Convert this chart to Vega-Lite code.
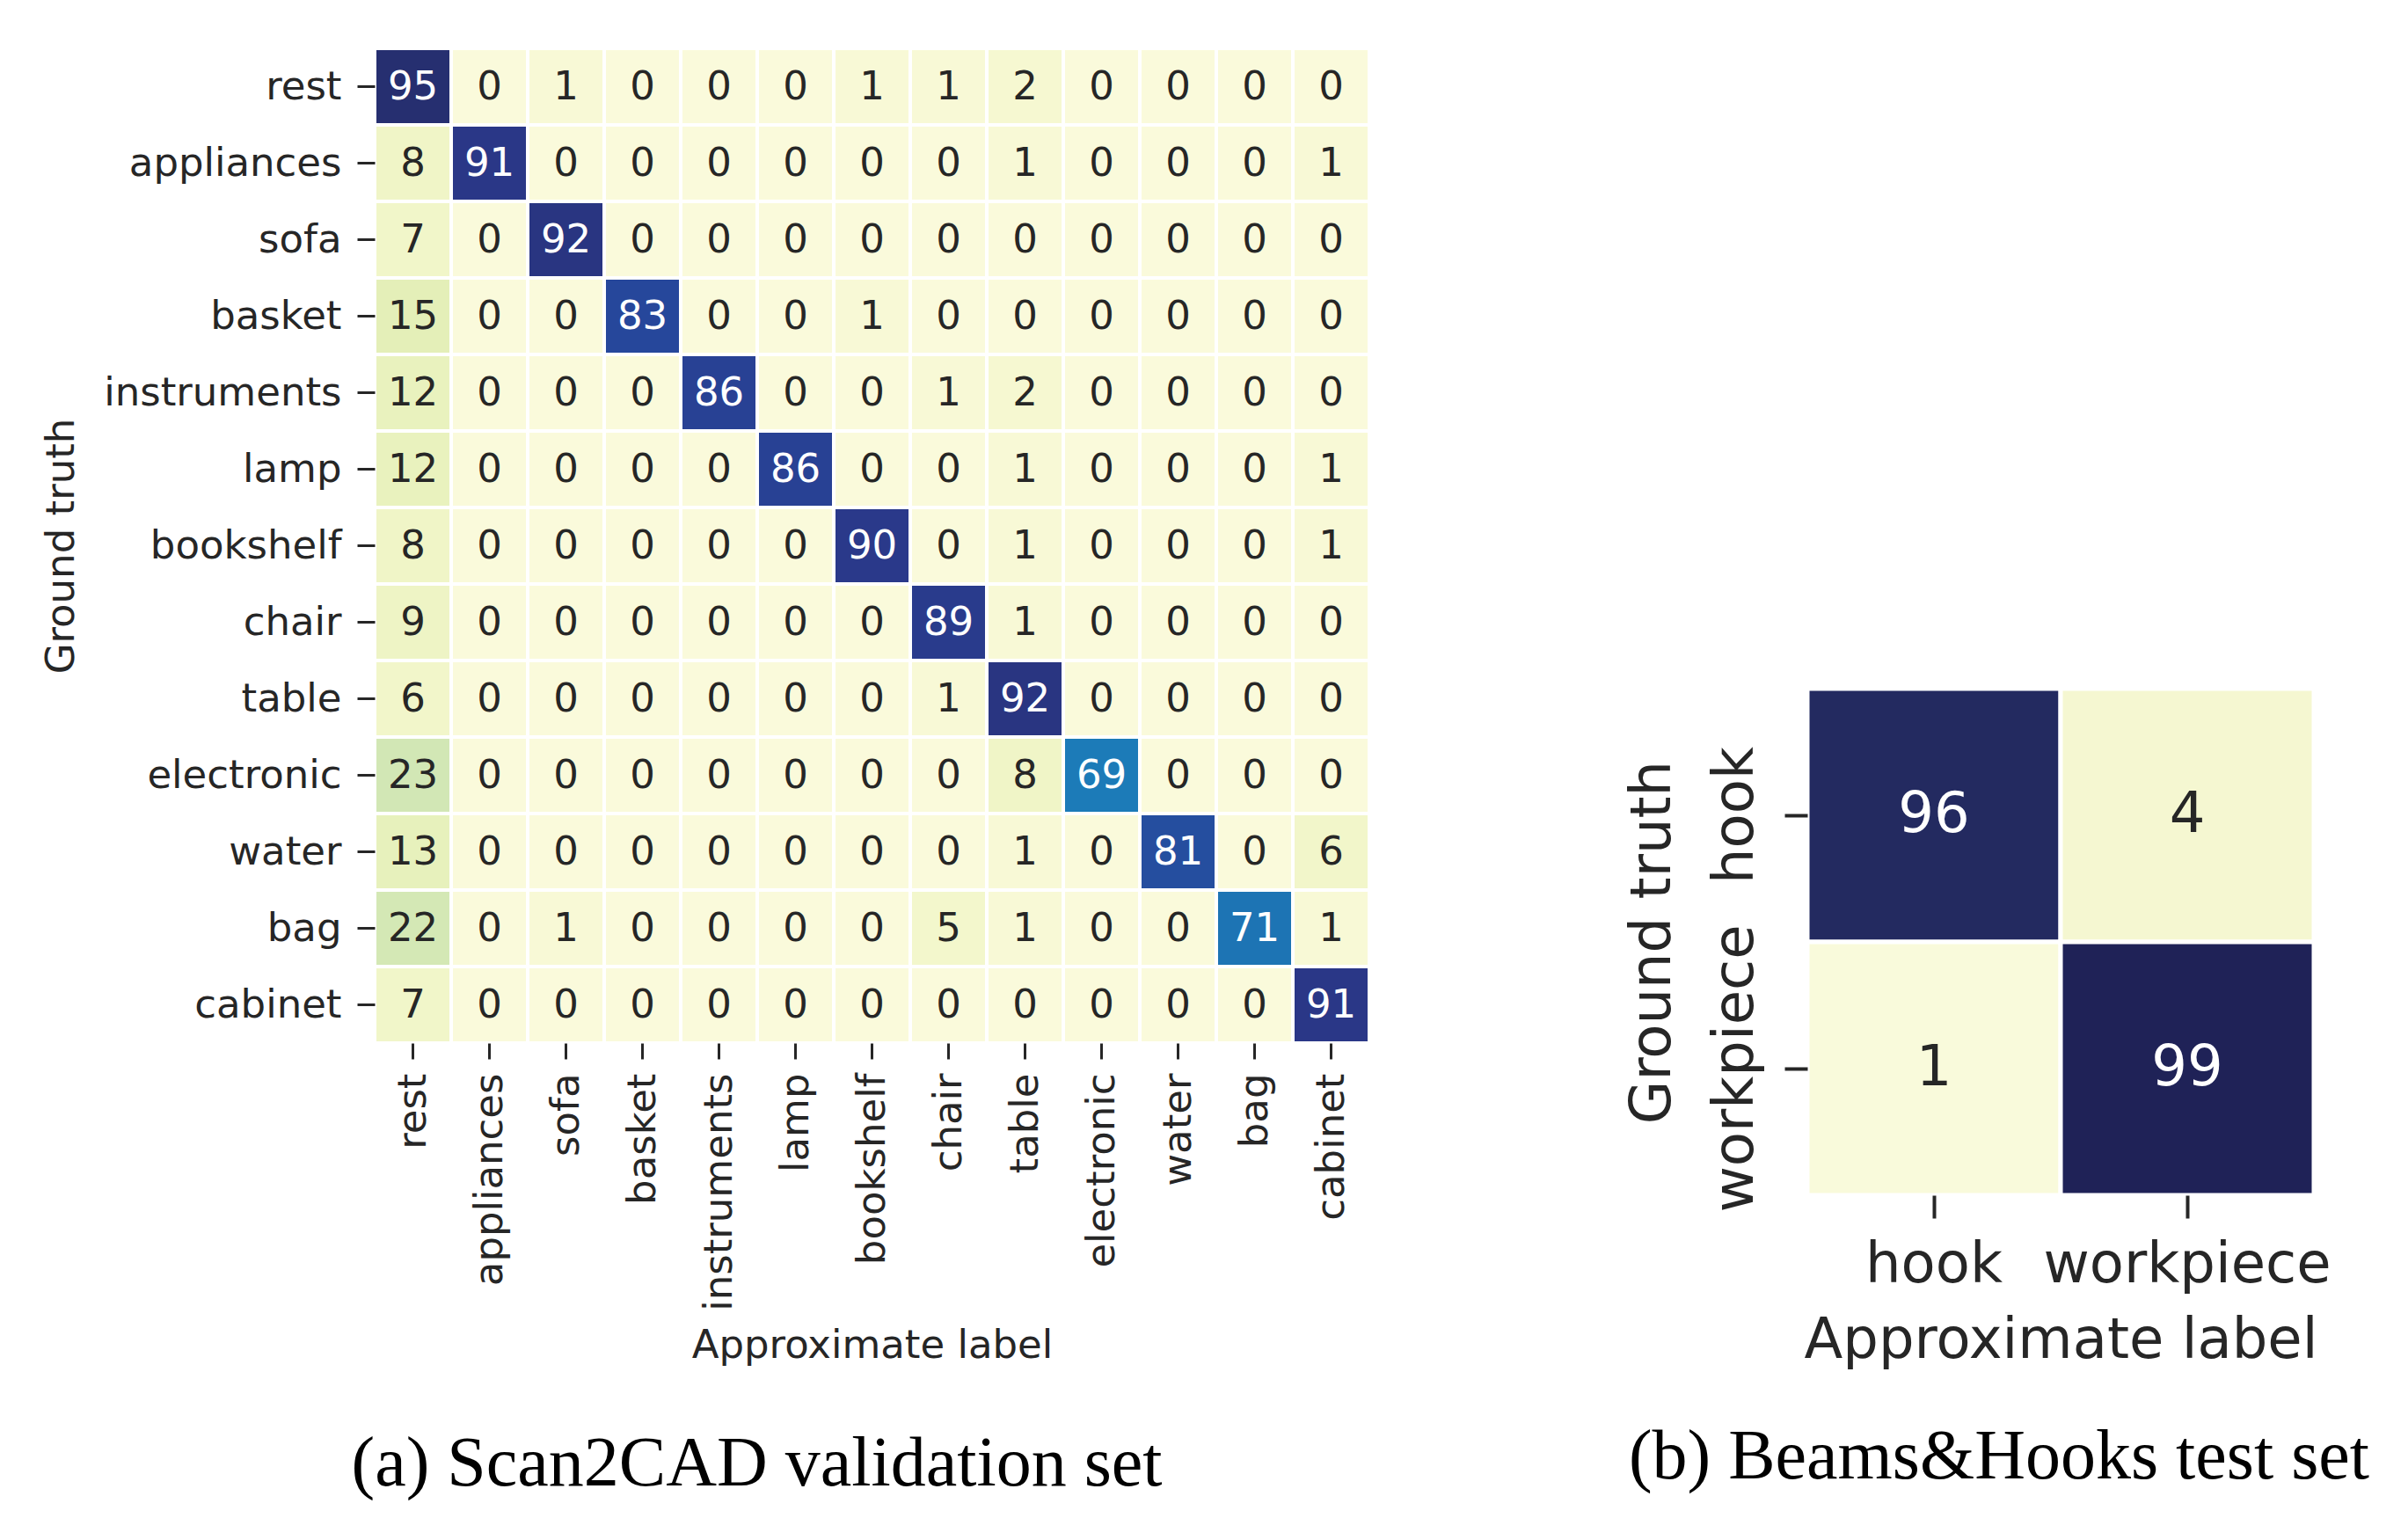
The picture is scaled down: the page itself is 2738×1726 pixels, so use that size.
{
  "$schema": "https://vega.github.io/schema/vega-lite/v6.json",
  "background": "white",
  "padding": {"left": 47, "top": 53, "right": 0, "bottom": 0},
  "config": {
    "view": {"stroke": null},
    "axis": {
      "domain": false, "grid": false, "labelLimit": 1000, "maxExtent": 1000,
      "labelFont": "DejaVu Sans", "labelColor": "#262626",
      "titleFont": "DejaVu Sans", "titleColor": "#262626", "titleFontWeight": "normal",
      "tickColor": "#262626"
    }
  },
  "datasets": {
    "scan2cad": [
      {"t":"rest","p":"rest","v":95},{"t":"rest","p":"appliances","v":0},{"t":"rest","p":"sofa","v":1},{"t":"rest","p":"basket","v":0},{"t":"rest","p":"instruments","v":0},{"t":"rest","p":"lamp","v":0},{"t":"rest","p":"bookshelf","v":1},{"t":"rest","p":"chair","v":1},{"t":"rest","p":"table","v":2},{"t":"rest","p":"electronic","v":0},{"t":"rest","p":"water","v":0},{"t":"rest","p":"bag","v":0},{"t":"rest","p":"cabinet","v":0},
      {"t":"appliances","p":"rest","v":8},{"t":"appliances","p":"appliances","v":91},{"t":"appliances","p":"sofa","v":0},{"t":"appliances","p":"basket","v":0},{"t":"appliances","p":"instruments","v":0},{"t":"appliances","p":"lamp","v":0},{"t":"appliances","p":"bookshelf","v":0},{"t":"appliances","p":"chair","v":0},{"t":"appliances","p":"table","v":1},{"t":"appliances","p":"electronic","v":0},{"t":"appliances","p":"water","v":0},{"t":"appliances","p":"bag","v":0},{"t":"appliances","p":"cabinet","v":1},
      {"t":"sofa","p":"rest","v":7},{"t":"sofa","p":"appliances","v":0},{"t":"sofa","p":"sofa","v":92},{"t":"sofa","p":"basket","v":0},{"t":"sofa","p":"instruments","v":0},{"t":"sofa","p":"lamp","v":0},{"t":"sofa","p":"bookshelf","v":0},{"t":"sofa","p":"chair","v":0},{"t":"sofa","p":"table","v":0},{"t":"sofa","p":"electronic","v":0},{"t":"sofa","p":"water","v":0},{"t":"sofa","p":"bag","v":0},{"t":"sofa","p":"cabinet","v":0},
      {"t":"basket","p":"rest","v":15},{"t":"basket","p":"appliances","v":0},{"t":"basket","p":"sofa","v":0},{"t":"basket","p":"basket","v":83},{"t":"basket","p":"instruments","v":0},{"t":"basket","p":"lamp","v":0},{"t":"basket","p":"bookshelf","v":1},{"t":"basket","p":"chair","v":0},{"t":"basket","p":"table","v":0},{"t":"basket","p":"electronic","v":0},{"t":"basket","p":"water","v":0},{"t":"basket","p":"bag","v":0},{"t":"basket","p":"cabinet","v":0},
      {"t":"instruments","p":"rest","v":12},{"t":"instruments","p":"appliances","v":0},{"t":"instruments","p":"sofa","v":0},{"t":"instruments","p":"basket","v":0},{"t":"instruments","p":"instruments","v":86},{"t":"instruments","p":"lamp","v":0},{"t":"instruments","p":"bookshelf","v":0},{"t":"instruments","p":"chair","v":1},{"t":"instruments","p":"table","v":2},{"t":"instruments","p":"electronic","v":0},{"t":"instruments","p":"water","v":0},{"t":"instruments","p":"bag","v":0},{"t":"instruments","p":"cabinet","v":0},
      {"t":"lamp","p":"rest","v":12},{"t":"lamp","p":"appliances","v":0},{"t":"lamp","p":"sofa","v":0},{"t":"lamp","p":"basket","v":0},{"t":"lamp","p":"instruments","v":0},{"t":"lamp","p":"lamp","v":86},{"t":"lamp","p":"bookshelf","v":0},{"t":"lamp","p":"chair","v":0},{"t":"lamp","p":"table","v":1},{"t":"lamp","p":"electronic","v":0},{"t":"lamp","p":"water","v":0},{"t":"lamp","p":"bag","v":0},{"t":"lamp","p":"cabinet","v":1},
      {"t":"bookshelf","p":"rest","v":8},{"t":"bookshelf","p":"appliances","v":0},{"t":"bookshelf","p":"sofa","v":0},{"t":"bookshelf","p":"basket","v":0},{"t":"bookshelf","p":"instruments","v":0},{"t":"bookshelf","p":"lamp","v":0},{"t":"bookshelf","p":"bookshelf","v":90},{"t":"bookshelf","p":"chair","v":0},{"t":"bookshelf","p":"table","v":1},{"t":"bookshelf","p":"electronic","v":0},{"t":"bookshelf","p":"water","v":0},{"t":"bookshelf","p":"bag","v":0},{"t":"bookshelf","p":"cabinet","v":1},
      {"t":"chair","p":"rest","v":9},{"t":"chair","p":"appliances","v":0},{"t":"chair","p":"sofa","v":0},{"t":"chair","p":"basket","v":0},{"t":"chair","p":"instruments","v":0},{"t":"chair","p":"lamp","v":0},{"t":"chair","p":"bookshelf","v":0},{"t":"chair","p":"chair","v":89},{"t":"chair","p":"table","v":1},{"t":"chair","p":"electronic","v":0},{"t":"chair","p":"water","v":0},{"t":"chair","p":"bag","v":0},{"t":"chair","p":"cabinet","v":0},
      {"t":"table","p":"rest","v":6},{"t":"table","p":"appliances","v":0},{"t":"table","p":"sofa","v":0},{"t":"table","p":"basket","v":0},{"t":"table","p":"instruments","v":0},{"t":"table","p":"lamp","v":0},{"t":"table","p":"bookshelf","v":0},{"t":"table","p":"chair","v":1},{"t":"table","p":"table","v":92},{"t":"table","p":"electronic","v":0},{"t":"table","p":"water","v":0},{"t":"table","p":"bag","v":0},{"t":"table","p":"cabinet","v":0},
      {"t":"electronic","p":"rest","v":23},{"t":"electronic","p":"appliances","v":0},{"t":"electronic","p":"sofa","v":0},{"t":"electronic","p":"basket","v":0},{"t":"electronic","p":"instruments","v":0},{"t":"electronic","p":"lamp","v":0},{"t":"electronic","p":"bookshelf","v":0},{"t":"electronic","p":"chair","v":0},{"t":"electronic","p":"table","v":8},{"t":"electronic","p":"electronic","v":69},{"t":"electronic","p":"water","v":0},{"t":"electronic","p":"bag","v":0},{"t":"electronic","p":"cabinet","v":0},
      {"t":"water","p":"rest","v":13},{"t":"water","p":"appliances","v":0},{"t":"water","p":"sofa","v":0},{"t":"water","p":"basket","v":0},{"t":"water","p":"instruments","v":0},{"t":"water","p":"lamp","v":0},{"t":"water","p":"bookshelf","v":0},{"t":"water","p":"chair","v":0},{"t":"water","p":"table","v":1},{"t":"water","p":"electronic","v":0},{"t":"water","p":"water","v":81},{"t":"water","p":"bag","v":0},{"t":"water","p":"cabinet","v":6},
      {"t":"bag","p":"rest","v":22},{"t":"bag","p":"appliances","v":0},{"t":"bag","p":"sofa","v":1},{"t":"bag","p":"basket","v":0},{"t":"bag","p":"instruments","v":0},{"t":"bag","p":"lamp","v":0},{"t":"bag","p":"bookshelf","v":0},{"t":"bag","p":"chair","v":5},{"t":"bag","p":"table","v":1},{"t":"bag","p":"electronic","v":0},{"t":"bag","p":"water","v":0},{"t":"bag","p":"bag","v":71},{"t":"bag","p":"cabinet","v":1},
      {"t":"cabinet","p":"rest","v":7},{"t":"cabinet","p":"appliances","v":0},{"t":"cabinet","p":"sofa","v":0},{"t":"cabinet","p":"basket","v":0},{"t":"cabinet","p":"instruments","v":0},{"t":"cabinet","p":"lamp","v":0},{"t":"cabinet","p":"bookshelf","v":0},{"t":"cabinet","p":"chair","v":0},{"t":"cabinet","p":"table","v":0},{"t":"cabinet","p":"electronic","v":0},{"t":"cabinet","p":"water","v":0},{"t":"cabinet","p":"bag","v":0},{"t":"cabinet","p":"cabinet","v":91}
    ],
    "beams": [
      {"t":"hook","p":"hook","v":96},{"t":"hook","p":"workpiece","v":4},
      {"t":"workpiece","p":"hook","v":1},{"t":"workpiece","p":"workpiece","v":99}
    ],
    "empty": []
  },
  "hconcat": [
    {
      "width": 1131, "height": 1131,
      "data": {"name": "scan2cad"},
      "title": {"text": "(a) Scan2CAD validation set", "orient": "bottom", "anchor": "middle", "frame": "group", "dx": -131, "offset": 74, "font": "Liberation Serif", "fontSize": 80, "fontWeight": "normal", "color": "black"},
      "encoding": {
        "x": {"field": "p", "type": "nominal", "sort": ["rest","appliances","sofa","basket","instruments","lamp","bookshelf","chair","table","electronic","water","bag","cabinet"], "title": "Approximate label",
          "axis": {"orient": "bottom", "labelAngle": 270, "labelAlign": "right", "labelBaseline": "middle", "labelFontSize": 45, "titleFontSize": 45, "tickSize": 18, "tickWidth": 3, "labelPadding": 16, "titlePadding": 17}},
        "y": {"field": "t", "type": "nominal", "sort": ["rest","appliances","sofa","basket","instruments","lamp","bookshelf","chair","table","electronic","water","bag","cabinet"], "title": "Ground truth",
          "axis": {"labelFontSize": 45, "titleFontSize": 45, "tickSize": 20, "tickWidth": 3, "labelPadding": 18, "titlePadding": 25}}
      },
      "layer": [
        {"mark": {"type": "rect", "stroke": "white", "strokeWidth": 4},
         "encoding": {"color": {"field": "v", "type": "quantitative", "legend": null,
           "scale": {"domain": [0, 2, 8, 15, 23, 69, 83, 91, 95], "range": ["#fafadb", "#f6f8d1", "#f0f5c7", "#e4efb8", "#d2e7b5", "#1c7bb8", "#26479b", "#2a3787", "#262f70"], "interpolate": "rgb"}}}},
        {"mark": {"type": "text", "font": "DejaVu Sans", "fontSize": 45, "baseline": "middle"},
         "encoding": {"text": {"field": "v", "type": "quantitative"},
           "color": {"condition": {"test": "datum.v > 50", "value": "white"}, "value": "#262626"}}}
      ]
    },
    {
      "spacing": 20,
      "vconcat": [
        {"width": 10, "height": 705, "data": {"name": "empty"}, "mark": "point"},
        {
          "width": 576, "height": 576,
          "data": {"name": "beams"},
          "title": {"text": "(b) Beams&Hooks test set", "orient": "bottom", "anchor": "middle", "frame": "group", "dx": -70, "offset": 62, "font": "Liberation Serif", "fontSize": 80, "fontWeight": "normal", "color": "black"},
          "encoding": {
            "x": {"field": "p", "type": "nominal", "sort": ["hook","workpiece"], "title": "Approximate label",
              "axis": {"orient": "bottom", "labelAngle": 0, "labelFontSize": 64, "titleFontSize": 64, "tickSize": 26, "tickWidth": 4, "labelPadding": 21, "titlePadding": 22}},
            "y": {"field": "t", "type": "nominal", "sort": ["hook","workpiece"], "title": "Ground truth",
              "axis": {"labelAngle": 270, "labelAlign": "center", "labelBaseline": "bottom", "labelFontSize": 64, "titleFontSize": 64, "tickSize": 26, "tickWidth": 4, "labelPadding": 24, "titlePadding": 30}}
          },
          "layer": [
            {"mark": {"type": "rect", "stroke": "white", "strokeWidth": 5},
             "encoding": {"color": {"field": "v", "type": "quantitative", "legend": null,
               "scale": {"domain": [1, 4, 96, 99], "range": ["#f9fadb", "#f5f7d1", "#232a60", "#1f2257"], "interpolate": "rgb"}}}},
            {"mark": {"type": "text", "font": "DejaVu Sans", "fontSize": 64, "baseline": "middle"},
             "encoding": {"text": {"field": "v", "type": "quantitative"},
               "color": {"condition": {"test": "datum.v > 50", "value": "white"}, "value": "#262626"}}}
          ]
        }
      ]
    }
  ],
  "spacing": 288,
  "resolve": {"scale": {"color": "independent", "x": "independent", "y": "independent"}}
}
